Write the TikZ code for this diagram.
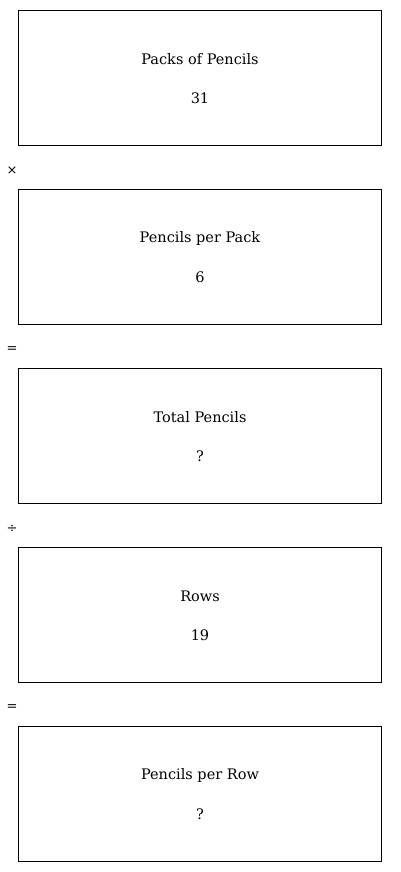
\documentclass[tikz,border=0pt]{standalone}
\usepackage{fontspec}
\setmainfont{DejaVu Serif}
\usetikzlibrary{calc,positioning}

\begin{document}
\begin{tikzpicture}[
  x=1pt,y=-1pt,
  card/.style={draw=black,line width=.8pt,minimum width=363pt,minimum height=135pt,inner sep=0pt},
  title/.style={font=\fontsize{14.5}{17}\selectfont,inner sep=0pt},
  amount/.style={font=\fontsize{14.5}{17}\selectfont,inner sep=0pt},
  operator/.style={font=\fontsize{13}{15}\selectfont,inner sep=0pt}
]
\useasboundingbox (0,0) rectangle (400,872);

\node[card] (packs) at (200,78) {};
\node[title] (packsT) at ($(packs.center)+(0,-19)$) {Packs of Pencils};
\node[amount] (packsV) at ($(packs.center)+(0,20)$) {31};

\node[operator] (times) at (12,171) {×};

\node[card] (perpack) at (200,257) {};
\node[title] (perpackT) at ($(perpack.center)+(0,-19)$) {Pencils per Pack};
\node[amount] (perpackV) at ($(perpack.center)+(0,20)$) {6};

\node[operator] (eqA) at (12,349.5) {=};

\node[card] (total) at (200,436) {};
\node[title] (totalT) at ($(total.center)+(0,-19)$) {Total Pencils};
\node[amount] (totalV) at ($(total.center)+(0,20)$) {?};

\node[operator] (divide) at (12,528.5) {÷};

\node[card] (rows) at (200,615) {};
\node[title] (rowsT) at ($(rows.center)+(0,-19)$) {Rows};
\node[amount] (rowsV) at ($(rows.center)+(0,20)$) {19};

\node[operator] (eqB) at (12,707.5) {=};

\node[card] (perrow) at (200,794) {};
\node[title] (perrowT) at ($(perrow.center)+(0,-19)$) {Pencils per Row};
\node[amount] (perrowV) at ($(perrow.center)+(0,20)$) {?};
\end{tikzpicture}
\end{document}
